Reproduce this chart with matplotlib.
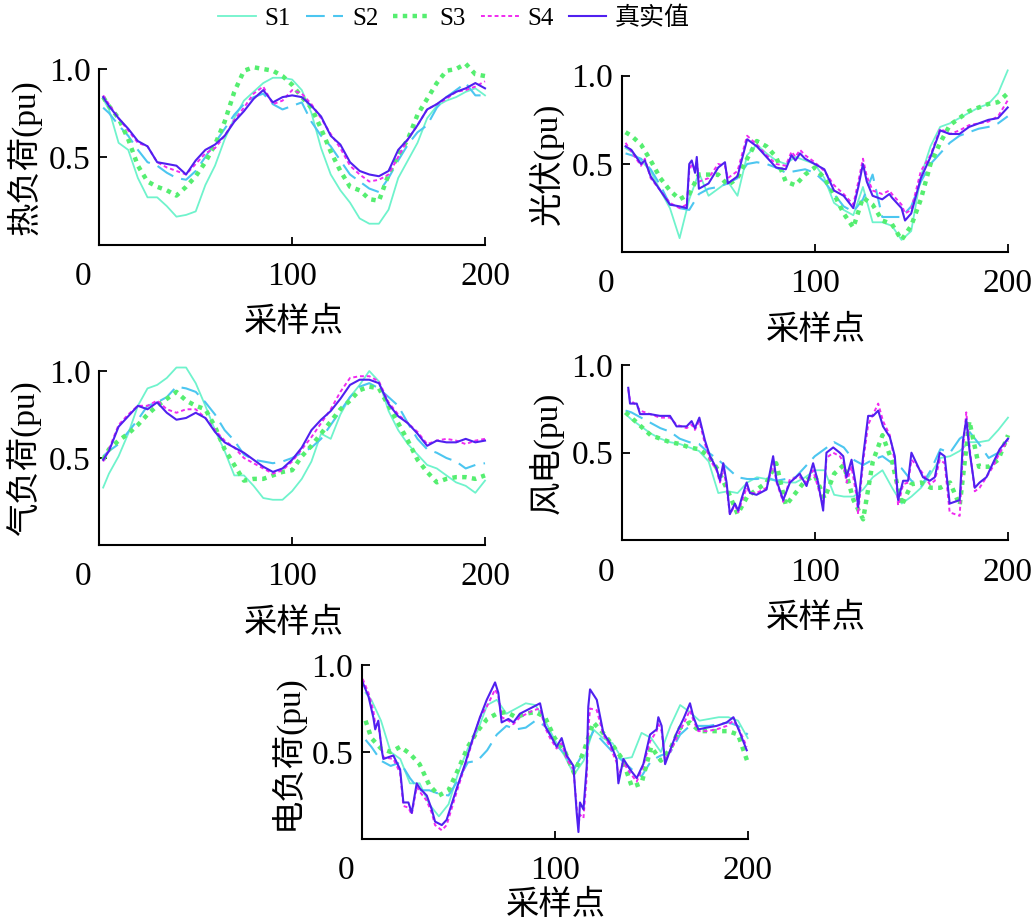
import matplotlib
matplotlib.use("Agg")
import matplotlib.pyplot as plt
import matplotlib.transforms as mtransforms

plt.rcParams['font.family'] = ['Liberation Serif', 'Noto Sans CJK SC', 'DejaVu Sans']
plt.rcParams['font.size'] = 24
plt.rcParams['axes.unicode_minus'] = False

# ---------------- data ----------------
series_names = ["S1", "S2", "S3", "S4", "真实值"]
y_labels = ["热负荷(pu)", "光伏(pu)", "气负荷(pu)", "风电(pu)", "电负荷(pu)"]
x_label = "采样点"
x_ticks = [0, 100, 200]
x_tick_labels = ["0", "100", "200"]
y_ticks = [0.5, 1.0]
y_tick_labels = ["0.5", "1.0"]

x_grid = [2, 5, 10, 15, 20, 25, 30, 35, 40, 45, 50, 55, 60, 65, 70, 75, 80, 85, 90, 95,
          100, 105, 110, 115, 120, 125, 130, 135, 140, 145, 150, 155, 160, 165, 170, 175,
          180, 185, 190, 195, 200]

# 热负荷
heat_s1 = [0.83, 0.77, 0.58, 0.54, 0.38, 0.27, 0.27, 0.22, 0.16, 0.17, 0.19, 0.34, 0.45, 0.60, 0.72, 0.82,
           0.87, 0.92, 0.95, 0.95, 0.94, 0.88, 0.75, 0.55, 0.40, 0.31, 0.24, 0.15, 0.12, 0.12, 0.20,
           0.38, 0.48, 0.58, 0.72, 0.79, 0.82, 0.84, 0.87, 0.89, 0.85]
heat_s2 = [0.78, 0.75, 0.68, 0.62, 0.54, 0.47, 0.45, 0.41, 0.38, 0.37, 0.42, 0.50, 0.58, 0.66, 0.74, 0.80,
           0.84, 0.86, 0.80, 0.77, 0.79, 0.81, 0.70, 0.62, 0.56, 0.48, 0.40, 0.36, 0.32, 0.30, 0.38,
           0.48, 0.57, 0.64, 0.68, 0.78, 0.84, 0.88, 0.92, 0.85, 0.85]
heat_s3 = [0.84, 0.79, 0.72, 0.60, 0.45, 0.36, 0.33, 0.31, 0.28, 0.33, 0.39, 0.47, 0.57, 0.70, 0.87, 0.99,
           1.01, 1.00, 0.99, 0.96, 0.91, 0.84, 0.78, 0.66, 0.53, 0.42, 0.33, 0.31, 0.26, 0.25, 0.40,
           0.51, 0.60, 0.74, 0.83, 0.92, 0.99, 1.00, 1.03, 0.97, 0.96]
heat_s4 = [0.85, 0.80, 0.72, 0.65, 0.58, 0.56, 0.47, 0.44, 0.42, 0.40, 0.46, 0.52, 0.55, 0.62, 0.71, 0.78,
           0.86, 0.90, 0.80, 0.82, 0.88, 0.86, 0.80, 0.72, 0.63, 0.55, 0.45, 0.40, 0.36, 0.37, 0.40,
           0.50, 0.60, 0.68, 0.77, 0.80, 0.83, 0.87, 0.88, 0.90, 0.93]
heat_true = [0.84, 0.79, 0.72, 0.66, 0.59, 0.56, 0.47, 0.46, 0.45, 0.40, 0.48, 0.54, 0.57, 0.62, 0.70, 0.76,
             0.83, 0.88, 0.81, 0.84, 0.85, 0.84, 0.79, 0.73, 0.62, 0.57, 0.47, 0.42, 0.40, 0.39, 0.42,
             0.54, 0.60, 0.68, 0.77, 0.80, 0.84, 0.87, 0.89, 0.92, 0.89]

# 光伏
pv_s1 = [0.59, 0.57, 0.52, 0.46, 0.35, 0.25, 0.08, 0.30, 0.45, 0.32, 0.36, 0.40, 0.32, 0.55, 0.61, 0.56,
         0.52, 0.50, 0.54, 0.52, 0.50, 0.42, 0.28, 0.24, 0.21, 0.37, 0.17, 0.17, 0.15, 0.07, 0.12,
         0.43, 0.60, 0.71, 0.73, 0.76, 0.79, 0.82, 0.84, 0.90, 1.03]
pv_s2 = [0.56, 0.55, 0.53, 0.47, 0.38, 0.27, 0.25, 0.24, 0.33, 0.36, 0.37, 0.39, 0.42, 0.50, 0.51, 0.50,
         0.48, 0.45, 0.46, 0.47, 0.45, 0.40, 0.33, 0.26, 0.23, 0.30, 0.44, 0.20, 0.20, 0.20, 0.26,
         0.40, 0.50, 0.56, 0.62, 0.66, 0.68, 0.70, 0.71, 0.73, 0.77]
pv_s3 = [0.68, 0.66, 0.61, 0.52, 0.42, 0.35, 0.30, 0.33, 0.44, 0.44, 0.44, 0.38, 0.42, 0.53, 0.63, 0.60,
         0.54, 0.40, 0.38, 0.44, 0.48, 0.42, 0.33, 0.22, 0.14, 0.31, 0.27, 0.18, 0.16, 0.07, 0.15,
         0.30, 0.50, 0.62, 0.72, 0.76, 0.80, 0.82, 0.84, 0.85, 0.90]
pv_fine_x = [2, 5, 10, 12, 15, 20, 25, 30, 33.7, 35, 36.3, 38, 38.9, 40, 45, 50, 53.5, 55, 60, 65,
             70, 75, 80, 85, 88, 90, 92.4, 95, 100, 105, 110, 115, 120, 122.6, 125, 127, 130, 135,
             138.7, 140, 145, 146.8, 150, 155, 160, 165, 170, 175, 180, 185, 190, 195, 200]
pv_true = [0.60, 0.58, 0.50, 0.52, 0.43, 0.35, 0.27, 0.26, 0.25, 0.50, 0.52, 0.45, 0.54, 0.36, 0.39,
           0.48, 0.51, 0.39, 0.43, 0.64, 0.60, 0.54, 0.48, 0.47, 0.55, 0.52, 0.56, 0.53, 0.50, 0.47,
           0.35, 0.32, 0.25, 0.37, 0.50, 0.40, 0.32, 0.30, 0.33, 0.31, 0.25, 0.18, 0.22, 0.42, 0.54,
           0.69, 0.67, 0.67, 0.71, 0.73, 0.75, 0.76, 0.82]
pv_s4 = [0.62, 0.57, 0.49, 0.53, 0.42, 0.35, 0.28, 0.25, 0.27, 0.46, 0.50, 0.47, 0.52, 0.40, 0.42,
         0.50, 0.49, 0.42, 0.46, 0.66, 0.61, 0.55, 0.50, 0.49, 0.57, 0.54, 0.58, 0.55, 0.51, 0.46,
         0.38, 0.33, 0.27, 0.40, 0.53, 0.43, 0.35, 0.33, 0.35, 0.33, 0.27, 0.22, 0.24, 0.46, 0.55,
         0.70, 0.67, 0.69, 0.72, 0.73, 0.74, 0.77, 0.86]

# 气负荷
gas_s1 = [0.33, 0.41, 0.51, 0.64, 0.80, 0.90, 0.92, 0.96, 1.02, 1.02, 0.93, 0.80, 0.66, 0.54, 0.40, 0.40,
          0.34, 0.27, 0.26, 0.26, 0.31, 0.38, 0.48, 0.64, 0.61, 0.75, 0.85, 0.92, 1.00, 0.94, 0.77,
          0.66, 0.58, 0.52, 0.46, 0.44, 0.40, 0.36, 0.34, 0.30, 0.37]
gas_s2 = [0.51, 0.54, 0.58, 0.65, 0.72, 0.80, 0.82, 0.85, 0.91, 0.90, 0.88, 0.82, 0.75, 0.66, 0.60, 0.52,
          0.49, 0.48, 0.47, 0.48, 0.50, 0.53, 0.56, 0.61, 0.69, 0.77, 0.85, 0.91, 0.93, 0.90, 0.85,
          0.80, 0.70, 0.61, 0.55, 0.53, 0.50, 0.48, 0.44, 0.46, 0.47]
gas_s3 = [0.49, 0.55, 0.60, 0.64, 0.69, 0.75, 0.80, 0.84, 0.88, 0.83, 0.80, 0.78, 0.68, 0.55, 0.46, 0.37,
          0.38, 0.38, 0.40, 0.42, 0.43, 0.51, 0.57, 0.64, 0.71, 0.78, 0.83, 0.89, 0.91, 0.90, 0.80,
          0.70, 0.60, 0.49, 0.42, 0.36, 0.38, 0.39, 0.39, 0.38, 0.40]
gas_s4 = [0.48, 0.55, 0.69, 0.75, 0.80, 0.80, 0.83, 0.78, 0.76, 0.78, 0.78, 0.73, 0.66, 0.60, 0.56, 0.50,
          0.47, 0.44, 0.41, 0.43, 0.48, 0.55, 0.62, 0.70, 0.78, 0.88, 0.96, 0.97, 0.97, 0.94, 0.82,
          0.75, 0.70, 0.65, 0.58, 0.60, 0.61, 0.60, 0.58, 0.60, 0.61]
gas_true = [0.49, 0.54, 0.68, 0.74, 0.80, 0.78, 0.82, 0.76, 0.72, 0.73, 0.76, 0.73, 0.65, 0.59, 0.56, 0.53,
            0.49, 0.45, 0.42, 0.44, 0.49, 0.56, 0.66, 0.72, 0.77, 0.84, 0.92, 0.95, 0.95, 0.93, 0.81,
            0.74, 0.70, 0.64, 0.57, 0.60, 0.59, 0.59, 0.61, 0.59, 0.60]

# 风电
wind_s1 = [0.72, 0.69, 0.65, 0.61, 0.58, 0.56, 0.55, 0.53, 0.51, 0.45, 0.27, 0.28, 0.27, 0.33, 0.36, 0.35,
           0.34, 0.33, 0.33, 0.36, 0.40, 0.40, 0.26, 0.25, 0.25, 0.29, 0.36, 0.40, 0.30, 0.21, 0.25,
           0.30, 0.38, 0.47, 0.48, 0.51, 0.56, 0.56, 0.57, 0.63, 0.70]
wind_s2 = [0.74, 0.73, 0.70, 0.67, 0.64, 0.62, 0.58, 0.56, 0.55, 0.50, 0.46, 0.41, 0.36, 0.35, 0.35, 0.36,
           0.34, 0.35, 0.36, 0.42, 0.48, 0.52, 0.56, 0.53, 0.46, 0.43, 0.46, 0.48, 0.44, 0.41, 0.34,
           0.31, 0.40, 0.52, 0.50, 0.58, 0.62, 0.55, 0.47, 0.50, 0.58]
wind_s3 = [0.73, 0.70, 0.65, 0.60, 0.58, 0.56, 0.55, 0.53, 0.52, 0.48, 0.40, 0.28, 0.15, 0.25, 0.29, 0.33,
           0.44, 0.20, 0.27, 0.34, 0.37, 0.24, 0.38, 0.43, 0.23, 0.12, 0.45, 0.60, 0.45, 0.20, 0.32,
           0.33, 0.30, 0.30, 0.33, 0.20, 0.68, 0.42, 0.42, 0.46, 0.60]
wind_fine_x = [3.4, 4.3, 7.8, 9.5, 14.7, 19.8, 25, 28.4, 33.6, 36.2, 37.9, 40.2, 43.1, 45.7, 49.1,
               50.9, 52.6, 54.3, 56, 58.6, 60.3, 62.1, 64.7, 66.4, 69.8, 75, 78.4, 80.2, 83.6, 87.1,
               92.2, 95.7, 99.1, 101.7, 104.3, 106, 109.5, 112.9, 114.7, 116.4, 119, 121.6, 122.4,
               125, 127.6, 130.2, 132.8, 135.3, 138.8, 141.4, 143.1, 145.7, 148.3, 150, 152.6, 156,
               159.5, 162.1, 164.7, 167.2, 169.8, 175, 176.7, 178.4, 180.2, 182.8, 185.3, 188.8,
               192.2, 195.7, 200]
wind_true = [0.87, 0.78, 0.78, 0.72, 0.72, 0.71, 0.71, 0.65, 0.65, 0.68, 0.64, 0.70, 0.57, 0.48, 0.41,
             0.34, 0.44, 0.33, 0.15, 0.21, 0.17, 0.24, 0.33, 0.27, 0.26, 0.29, 0.48, 0.34, 0.23, 0.33,
             0.38, 0.31, 0.44, 0.33, 0.17, 0.50, 0.53, 0.50, 0.48, 0.36, 0.46, 0.29, 0.19, 0.48,
             0.71, 0.71, 0.74, 0.65, 0.59, 0.48, 0.23, 0.34, 0.34, 0.50, 0.44, 0.36, 0.34, 0.36,
             0.50, 0.48, 0.21, 0.23, 0.57, 0.69, 0.50, 0.30, 0.33, 0.36, 0.44, 0.52, 0.58]
wind_s4 = [0.86, 0.80, 0.77, 0.74, 0.72, 0.70, 0.70, 0.66, 0.64, 0.66, 0.63, 0.68, 0.55, 0.46, 0.40,
           0.33, 0.42, 0.30, 0.15, 0.20, 0.16, 0.22, 0.30, 0.27, 0.27, 0.30, 0.44, 0.33, 0.22, 0.35,
           0.36, 0.33, 0.40, 0.30, 0.20, 0.47, 0.50, 0.48, 0.45, 0.33, 0.42, 0.25, 0.15, 0.45,
           0.66, 0.72, 0.78, 0.68, 0.60, 0.45, 0.20, 0.32, 0.33, 0.46, 0.43, 0.38, 0.32, 0.34,
           0.46, 0.44, 0.16, 0.14, 0.52, 0.73, 0.52, 0.28, 0.30, 0.36, 0.42, 0.50, 0.57]

# 电负荷
elec_s1 = [0.84, 0.80, 0.68, 0.50, 0.46, 0.32, 0.32, 0.20, 0.13, 0.20, 0.38, 0.52, 0.62, 0.77, 0.80, 0.72,
           0.75, 0.78, 0.77, 0.68, 0.57, 0.48, 0.37, 0.45, 0.63, 0.58, 0.55, 0.46, 0.47, 0.61, 0.58,
           0.50, 0.65, 0.77, 0.73, 0.68, 0.69, 0.70, 0.70, 0.68, 0.58]
elec_s2 = [0.57, 0.53, 0.45, 0.42, 0.44, 0.35, 0.28, 0.28, 0.26, 0.25, 0.34, 0.44, 0.45, 0.51, 0.60, 0.65,
           0.63, 0.64, 0.68, 0.65, 0.55, 0.49, 0.40, 0.50, 0.62, 0.56, 0.50, 0.45, 0.40, 0.36, 0.45,
           0.48, 0.50, 0.60, 0.65, 0.65, 0.65, 0.66, 0.67, 0.65, 0.60]
elec_s3 = [0.68, 0.58, 0.52, 0.50, 0.53, 0.49, 0.43, 0.31, 0.25, 0.28, 0.40, 0.53, 0.62, 0.69, 0.72, 0.73,
           0.70, 0.72, 0.73, 0.70, 0.58, 0.51, 0.38, 0.50, 0.67, 0.61, 0.54, 0.46, 0.30, 0.32, 0.53,
           0.45, 0.52, 0.64, 0.67, 0.62, 0.62, 0.62, 0.62, 0.60, 0.44]
elec_fine_x = [0.5, 3.5, 6, 7, 8.6, 10.4, 11.2, 16.4, 19.9, 21.6, 24.2, 25.9, 28.5, 30.2, 33.7, 36.3,
               38, 41.5, 44, 49.2, 53.5, 57.9, 61.3, 64.8, 67.4, 69.1, 70.8, 72.5, 76, 78.6, 82,
               85.5, 89, 92.4, 95, 97.6, 101, 103.6, 106.2, 109.7, 111.4, 112.3, 113.1, 114.9,
               116.6, 117.4, 118.3, 121.8, 125.2, 128.7, 132.1, 133, 135.6, 139, 142.5, 145.9,
               149.4, 152.8, 153.7, 155.4, 157.2, 159.8, 163.2, 166.7, 170.1, 171.9, 174.4, 178.8,
               183.9, 189.1, 192.6, 196, 199.5]
elec_true = [0.90, 0.82, 0.70, 0.63, 0.68, 0.51, 0.46, 0.48, 0.40, 0.21, 0.21, 0.15, 0.32, 0.29, 0.25,
             0.17, 0.10, 0.08, 0.11, 0.29, 0.43, 0.59, 0.70, 0.80, 0.86, 0.90, 0.84, 0.67, 0.69, 0.67,
             0.72, 0.74, 0.76, 0.78, 0.65, 0.60, 0.53, 0.58, 0.48, 0.42, 0.15, 0.04, 0.21, 0.17,
             0.42, 0.76, 0.86, 0.80, 0.61, 0.55, 0.46, 0.32, 0.46, 0.40, 0.35, 0.43, 0.60, 0.63,
             0.70, 0.65, 0.43, 0.51, 0.61, 0.69, 0.78, 0.70, 0.63, 0.64, 0.65, 0.67, 0.70, 0.61, 0.51]
elec_s4 = [0.92, 0.84, 0.74, 0.66, 0.66, 0.52, 0.47, 0.46, 0.38, 0.19, 0.18, 0.14, 0.30, 0.27, 0.22,
           0.15, 0.08, 0.05, 0.08, 0.27, 0.42, 0.58, 0.70, 0.76, 0.82, 0.86, 0.82, 0.70, 0.68, 0.66,
           0.70, 0.72, 0.74, 0.75, 0.64, 0.58, 0.52, 0.55, 0.46, 0.40, 0.18, 0.08, 0.14, 0.12,
           0.36, 0.62, 0.75, 0.74, 0.60, 0.53, 0.44, 0.36, 0.44, 0.38, 0.33, 0.42, 0.56, 0.62,
           0.66, 0.62, 0.45, 0.50, 0.58, 0.66, 0.74, 0.68, 0.62, 0.62, 0.63, 0.65, 0.68, 0.62, 0.53]

panels = [
    ((x_grid, heat_s1), (x_grid, heat_s2), (x_grid, heat_s3), (x_grid, heat_s4), (x_grid, heat_true)),
    ((x_grid, pv_s1), (x_grid, pv_s2), (x_grid, pv_s3), (pv_fine_x, pv_s4), (pv_fine_x, pv_true)),
    ((x_grid, gas_s1), (x_grid, gas_s2), (x_grid, gas_s3), (x_grid, gas_s4), (x_grid, gas_true)),
    ((x_grid, wind_s1), (x_grid, wind_s2), (x_grid, wind_s3), (wind_fine_x, wind_s4), (wind_fine_x, wind_true)),
    ((x_grid, elec_s1), (x_grid, elec_s2), (x_grid, elec_s3), (elec_fine_x, elec_s4), (elec_fine_x, elec_true)),
]

# ---------------- styling ----------------
colors = ['#6ff3cc', '#4cc6f0', '#55ee70', '#f02af0', '#5020f0']
styles = ['-', (0, (9, 4)), (0, (1, 1.2)), (0, (2, 1.5)), '-']
widths = [1.3, 1.5, 3.2, 1.4, 1.5]

W, H = 1031, 921
fig = plt.figure(figsize=(W / 100, H / 100), dpi=100)

# pixel boxes: (x of data 0, x of data 200, y of data 0, y of data 1.0, xlabel pad)
boxes = [
    (99.3, 485.0, 244.8, 69.0, 11),
    (621.7, 1007.7, 252.3, 75.7, 11),
    (99.3, 485.0, 545.0, 371.0, 11),
    (621.7, 1008.0, 540.4, 365.0, 11),
    (361.7, 747.7, 839.0, 665.0, 3),
]

XMAX = 201.5
YMAX = 1.06
handles = None
for (data, ylab, (x0, x2, y0, y1, lpad)) in zip(panels, y_labels, boxes):
    ppu_x = (x2 - x0) / 200.0
    ppu_y = (y0 - y1)
    ax = fig.add_axes([x0 / W, (H - y0) / H, XMAX * ppu_x / W, YMAX * ppu_y / H])
    lines = []
    for (xs, vals), c, ls, lw, name in zip(data, colors, styles, widths, series_names):
        ln, = ax.plot(xs, vals, color=c, linestyle=ls, linewidth=lw, label=name,
                      clip_on=False)
        lines.append(ln)
    handles = lines
    ax.set_xlim(0, XMAX)
    ax.set_ylim(0, YMAX)
    for s in ['top', 'right']:
        ax.spines[s].set_visible(False)
    ax.spines['left'].set_bounds(0, 1.0)
    ax.spines['bottom'].set_bounds(0, 200)
    ax.spines['left'].set_linewidth(1.5)
    ax.spines['bottom'].set_linewidth(1.5)
    ax.tick_params(axis='both', direction='in', length=6, width=1.3, labelsize=24)
    ax.tick_params(axis='x', pad=12)
    ax.tick_params(axis='y', pad=6)
    ax.set_xticks(x_ticks)
    ax.set_xticklabels(x_tick_labels)
    ax.set_yticks(y_ticks)
    ax.set_yticklabels(y_tick_labels)
    ax.set_xlabel(x_label, fontsize=24, labelpad=lpad)
    ax.set_ylabel(ylab, fontsize=24)
    ax.yaxis.set_label_coords(-0.148, 0.5 / YMAX)
    # the "0" label sits left of the axis corner
    lbl = ax.get_xticklabels()[0]
    lbl.set_transform(lbl.get_transform() +
                      mtransforms.ScaledTranslation(-0.16, 0, fig.dpi_scale_trans))

fig.legend(handles=handles, labels=series_names, loc='center',
           bbox_to_anchor=(454 / W, 1 - 18 / H), ncol=5, frameon=False,
           fontsize=18, handlelength=1.5, handletextpad=0.35, columnspacing=0.6,
           borderpad=0, borderaxespad=0)

fig.savefig('out.png', dpi=100)
